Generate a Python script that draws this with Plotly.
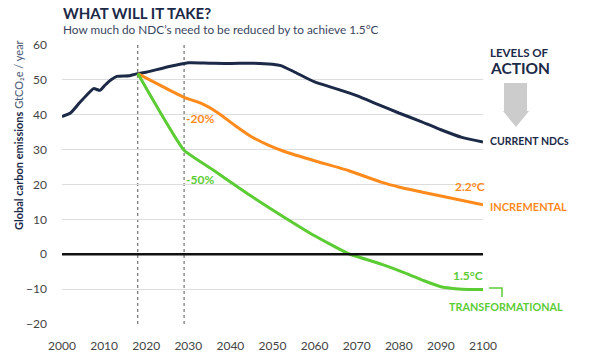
import plotly.graph_objects as go

# ---- data ----
years_current = [2000, 2002, 2004, 2006, 2007.5, 2009, 2010, 2011.5, 2013, 2016, 2018, 2020, 2025, 2030,
                 2035, 2040, 2045, 2050, 2052, 2055, 2060, 2065, 2070, 2075, 2080, 2085, 2090, 2095, 2100]
current_ndcs = [39.5, 40.5, 43.2, 45.8, 47.5, 47.0, 48.2, 49.9, 51.0, 51.2, 51.8, 52.2, 53.7, 54.9,
                54.8, 54.7, 54.8, 54.5, 54.1, 52.4, 49.4, 47.5, 45.5, 43.0, 40.5, 38.2, 35.7, 33.5, 32.2]

years_incr = [2018, 2029, 2033, 2037, 2041, 2045, 2049, 2053, 2060, 2068, 2076, 2080, 2090, 2100]
incremental = [51.8, 45.0, 43.3, 40.6, 37.0, 33.7, 31.3, 29.4, 26.8, 24.0, 20.6, 19.3, 16.7, 14.2]

years_trans = [2018, 2029, 2036, 2044, 2052, 2060, 2068, 2076, 2082, 2086, 2090, 2095, 2100]
transformational = [51.8, 29.8, 24.1, 17.4, 11.2, 5.3, 0.2, -2.9, -5.6, -7.6, -9.3, -10.0, -10.1]

milestones = [2018, 2029]
x_ticks = list(range(2000, 2101, 10))
y_ticks = list(range(-20, 61, 10))

NAVY = "#1c2a48"
ORANGE = "#ff8a1c"
GREEN = "#5ccc34"
FONT = "Lato"

fig = go.Figure()
fig.add_trace(go.Scatter(x=years_current, y=current_ndcs, mode="lines",
                         line=dict(color=NAVY, width=3, shape="spline", smoothing=0.6), showlegend=False))
fig.add_trace(go.Scatter(x=years_incr, y=incremental, mode="lines",
                         line=dict(color=ORANGE, width=3, shape="spline", smoothing=0.5), showlegend=False))
fig.add_trace(go.Scatter(x=years_trans, y=transformational, mode="lines",
                         line=dict(color=GREEN, width=3, shape="spline", smoothing=0.4), showlegend=False))

# plot area geometry in pixels
L, R, T, B = 62, 483, 45, 324
W, H = R - L, B - T

def px(x):
    return (x - L) / W

def py(y):
    return (B - y) / H

shapes = []
for m in milestones:
    shapes.append(dict(type="line", xref="x", yref="paper", x0=m, x1=m, y0=0, y1=1,
                       line=dict(color="#555555", width=1, dash="dot"), layer="below"))
# zero line
shapes.append(dict(type="line", xref="paper", yref="y", x0=0, x1=1, y0=0, y1=0,
                   line=dict(color="#111111", width=2.5)))
# arrow
shapes.append(dict(type="path", xref="paper", yref="paper",
                   path=(f"M {px(504)} {py(83)} L {px(527)} {py(83)} L {px(527)} {py(111)} "
                         f"L {px(529)} {py(111)} L {px(516)} {py(127)} L {px(503)} {py(111)} "
                         f"L {px(504)} {py(111)} Z"),
                   fillcolor="#cccccc", line=dict(width=0)))
# bracket
shapes.append(dict(type="path", xref="paper", yref="paper",
                   path=f"M {px(489)} {py(288)} L {px(502)} {py(288)} L {px(502)} {py(297)}",
                   line=dict(color=GREEN, width=1.5)))

def ann(text, x, y, size, color, xanchor="left", bold=True, angle=0):
    return dict(text=f"<b>{text}</b>" if bold else text, xref="paper", yref="paper",
                x=px(x), y=py(y), xanchor=xanchor, yanchor="middle", showarrow=False,
                textangle=angle, font=dict(family=FONT, size=size, color=color))

annotations = [
    ann("WHAT WILL IT TAKE?", 61, 13, 15, NAVY),
    ann("How much do NDC’s need to be reduced by to achieve 1.5°C", 61, 29.5, 11.8, "#3a4660", bold=False),
    ann("LEVELS OF", 488, 52, 11.5, NAVY),
    ann("ACTION", 488, 68, 15.5, NAVY),
    ann("CURRENT NDCs", 488, 141, 10.5, NAVY),
    ann("2.2°C", 487, 187, 12, ORANGE, xanchor="right"),
    ann("INCREMENTAL", 488, 207, 11, ORANGE),
    ann("1.5°C", 485, 275, 12, GREEN, xanchor="right"),
    ann("TRANSFORMATIONAL", 447, 306, 10.8, GREEN),
    ann("-20%", 184, 118, 12, ORANGE),
    ann("-50%", 184, 179, 12, GREEN),
    dict(text="<b>Global carbon emissions</b> <span style='color:#4a5875'>GtCO₂e / year</span>",
         xref="paper", yref="paper", x=px(18), y=py(135), xanchor="center", yanchor="middle",
         showarrow=False, textangle=-90, font=dict(family=FONT, size=11, color=NAVY)),
]

fig.update_layout(
    width=600, height=360,
    margin=dict(l=L, r=600 - R, t=T, b=360 - B, autoexpand=False),
    paper_bgcolor="white", plot_bgcolor="white",
    font=dict(family=FONT, color="#444444", size=12),
    shapes=shapes, annotations=annotations,
    xaxis=dict(range=[2000, 2100], tickvals=x_ticks, showgrid=False, zeroline=False,
               showline=False, ticks="", ticklabelstandoff=13, automargin=False,
               tickfont=dict(family=FONT, size=12, color="#444444")),
    yaxis=dict(range=[-20, 60], tickvals=y_ticks, showgrid=True, gridcolor="#dddddd",
               gridwidth=1.2, zeroline=False, showline=False, ticks="", ticklabelstandoff=14,
               automargin=False, tickfont=dict(family=FONT, size=12, color="#444444")),
)

fig.write_html("out.html", config={"displayModeBar": False},
               post_script="document.body.style.margin='0';")
